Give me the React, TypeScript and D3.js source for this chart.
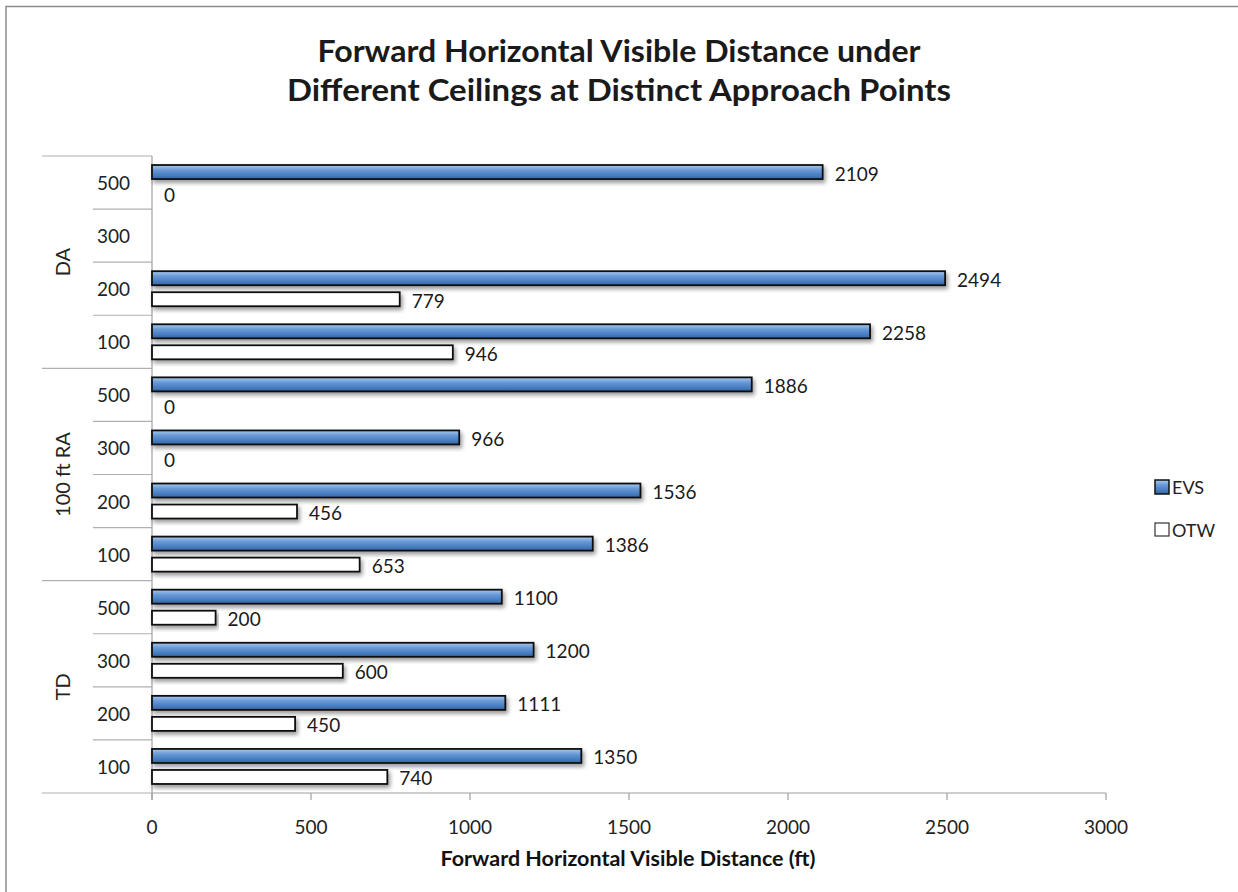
import React from "react";
import * as d3 from "d3";

const groups = ["DA", "100 ft RA", "TD"];
const ceilings = ["500", "300", "200", "100"];
const seriesNames = ["EVS", "OTW"];
const evsValues = [2109, null, 2494, 2258, 1886, 966, 1536, 1386, 1100, 1200, 1111, 1350];
const otwValues = [0, null, 779, 946, 0, 0, 456, 653, 200, 600, 450, 740];
const xTicks = [0, 500, 1000, 1500, 2000, 2500, 3000];

const W = 1238;
const H = 892;
const FONT = "Lato, 'Open Sans', sans-serif";

type Row = { idx: number; group: string; ceiling: string; evs: number | null; otw: number | null };

const rows: Row[] = [];
groups.forEach((g, gi) => {
  ceilings.forEach((c, ci) => {
    const idx = gi * ceilings.length + ci;
    rows.push({ idx, group: g, ceiling: c, evs: evsValues[idx], otw: otwValues[idx] });
  });
});

const App = () => {
  const x = d3.scaleLinear().domain([0, 3000]).range([152, 1106]);
  const y = d3
    .scaleBand<number>()
    .domain(rows.map((r) => r.idx))
    .range([156, 793])
    .padding(0);
  const sub = d3
    .scaleBand<string>()
    .domain(seriesNames)
    .range([0, y.bandwidth()])
    .paddingInner(1 / 3)
    .paddingOuter(0.43);

  const groupEdges = groups.map((_, gi) => y(gi * ceilings.length) ?? 0).concat([793]);

  return (
    <div style={{ position: "absolute", left: 0, top: 0 }}>
      <svg width={W} height={H} style={{ display: "block", background: "#fff" }} fontFamily={FONT}>
        <defs>
          <linearGradient id="evsGrad" x1="0" y1="0" x2="0" y2="1">
            <stop offset="0" stopColor="#a9cbf0" />
            <stop offset="0.35" stopColor="#6a9ad6" />
            <stop offset="0.7" stopColor="#4a7fc4" />
            <stop offset="1" stopColor="#35649f" />
          </linearGradient>
          <filter id="shadow" x="-5%" y="-50%" width="110%" height="200%">
            <feDropShadow dx="2" dy="3" stdDeviation="2" floodColor="#000" floodOpacity="0.4" />
          </filter>
        </defs>

        {/* outer frame */}
        <rect x={6} y={6.5} width={W + 20} height={H + 20} fill="none" stroke="#8c8c8c" strokeWidth={1.5} />

        {/* title */}
        <text x={619} y={50} textAnchor="middle" dominantBaseline="central" fontWeight="bold" fontSize={31} fill="#1a1a1a"
          textLength={603} lengthAdjust="spacingAndGlyphs">
          Forward Horizontal Visible Distance under
        </text>
        <text x={619} y={89} textAnchor="middle" dominantBaseline="central" fontWeight="bold" fontSize={31} fill="#1a1a1a"
          textLength={664} lengthAdjust="spacingAndGlyphs">
          Different Ceilings at Distinct Approach Points
        </text>

        {/* category separators */}
        {rows.map((r) => {
          const yy = y(r.idx) ?? 0;
          const isGroupEdge = r.idx % ceilings.length === 0;
          return (
            <line key={"sep" + r.idx} x1={isGroupEdge ? 42 : 93} x2={152} y1={yy} y2={yy} stroke="#b0b0b0" strokeWidth={1.2} />
          );
        })}
        <line x1={42} x2={152} y1={793} y2={793} stroke="#b0b0b0" strokeWidth={1.2} />

        {/* ceiling labels */}
        {rows.map((r) => (
          <text
            key={"cl" + r.idx}
            x={130}
            y={(y(r.idx) ?? 0) + y.bandwidth() / 2}
            textAnchor="end"
            dominantBaseline="central"
            fontSize={19}
            fill="#222"
          >
            {r.ceiling}
          </text>
        ))}

        {/* group labels */}
        {groups.map((g, gi) => {
          const cy = (groupEdges[gi] + groupEdges[gi + 1]) / 2;
          return (
            <text
              key={"g" + g}
              transform={`translate(62,${cy}) rotate(-90)`}
              textAnchor="middle"
              dominantBaseline="central"
              fontSize={20}
              fill="#222"
            >
              {g}
            </text>
          );
        })}

        {/* axes */}
        <line x1={152} x2={152} y1={156} y2={800} stroke="#a0a0a0" strokeWidth={1.2} />
        <line x1={152} x2={1106} y1={793} y2={793} stroke="#a0a0a0" strokeWidth={1.2} />
        {xTicks.map((t) => (
          <g key={"xt" + t}>
            <line x1={x(t)} x2={x(t)} y1={793} y2={800} stroke="#a0a0a0" strokeWidth={1.2} />
            <text x={x(t)} y={826} textAnchor="middle" dominantBaseline="central" fontSize={19} fill="#222">
              {t}
            </text>
          </g>
        ))}
        <text x={628} y={858} textAnchor="middle" dominantBaseline="central" fontWeight="bold" fontSize={20} fill="#111"
          textLength={375} lengthAdjust="spacingAndGlyphs">
          Forward Horizontal Visible Distance (ft)
        </text>

        {/* bars */}
        {rows.map((r) => {
          const base = y(r.idx) ?? 0;
          const items: { key: string; v: number | null }[] = [
            { key: "EVS", v: r.evs },
            { key: "OTW", v: r.otw },
          ];
          return items.map((it) => {
            if (it.v === null) return null;
            const by = base + (sub(it.key) ?? 0);
            const bh = sub.bandwidth();
            const bw = x(it.v) - x(0);
            return (
              <g key={"b" + r.idx + it.key}>
                {bw > 0 && (
                  <rect
                    x={x(0)}
                    y={by}
                    width={bw}
                    height={bh}
                    fill={it.key === "EVS" ? "url(#evsGrad)" : "#fff"}
                    stroke="#111"
                    strokeWidth={1.8}
                    filter="url(#shadow)"
                  />
                )}
                <text
                  x={x(it.v) + 12}
                  y={by + bh / 2 + 1}
                  dominantBaseline="central"
                  fontSize={19}
                  fill="#1a1a1a"
                >
                  {it.v}
                </text>
              </g>
            );
          });
        })}

        {/* legend */}
        <rect x={1155} y={480} width={14} height={14} fill="url(#evsGrad)" stroke="#111" strokeWidth={1.5} />
        <text x={1172} y={487} dominantBaseline="central" fontSize={18} fill="#222">
          EVS
        </text>
        <rect x={1155} y={523} width={14} height={13} fill="#fff" stroke="#333" strokeWidth={1.2} />
        <text x={1172} y={530} dominantBaseline="central" fontSize={18} fill="#222">
          OTW
        </text>
      </svg>
    </div>
  );
};

export default App;
